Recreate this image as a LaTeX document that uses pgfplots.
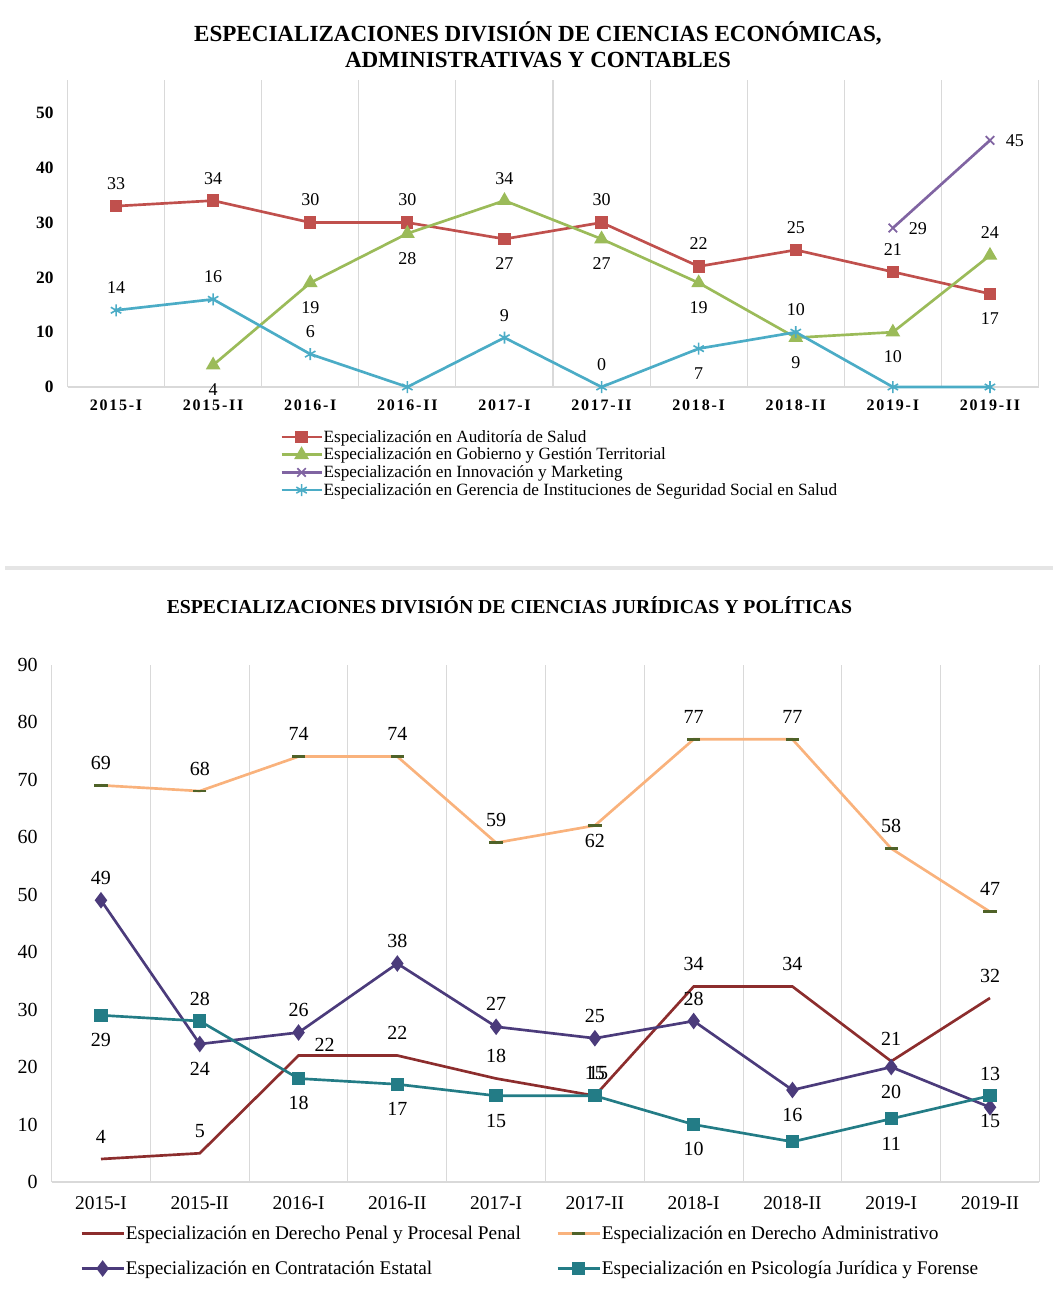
\documentclass[border=0pt]{standalone}
\usepackage{pgfplots}
\pgfplotsset{compat=1.18}
\usepackage{pgfplotstable}
\usepackage{fontspec}
\setmainfont{Liberation Serif}

\definecolor{cRed}{HTML}{C0504D}
\definecolor{cGreen}{HTML}{9BBB59}
\definecolor{cPurple}{HTML}{8064A2}
\definecolor{cCyan}{HTML}{4BACC6}
\definecolor{cMaroon}{HTML}{8C2D2D}
\definecolor{cOrange}{HTML}{F9B27C}
\definecolor{cDkGreen}{HTML}{4F6228}
\definecolor{cViolet}{HTML}{4B3B7B}
\definecolor{cTeal}{HTML}{237C86}
\definecolor{cGrid}{HTML}{D9D9D9}

% label placement helpers: A above, B below, C close below, R right, U high above, Q above-right, S above (shifted)
\newcommand\LA[1]{\makebox[0pt]{\smash{\raisebox{\dimexpr 17pt-0.34em\relax}{#1}}}}
\newcommand\LU[1]{\makebox[0pt]{\smash{\raisebox{\dimexpr 25pt-0.34em\relax}{#1}}}}
\newcommand\LB[1]{\makebox[0pt]{\smash{\raisebox{\dimexpr -18.5pt-0.34em\relax}{#1}}}}
\newcommand\LC[1]{\makebox[0pt]{\smash{\raisebox{\dimexpr -11.5pt-0.34em\relax}{#1}}}}
\newcommand\LR[1]{\makebox[0pt][l]{\hspace{12pt}\smash{\raisebox{-0.34em}{#1}}}}
\newcommand\LQ[1]{\makebox[0pt][l]{\hspace{12pt}\smash{\raisebox{\dimexpr 8pt-0.34em\relax}{#1}}}}
\newcommand\LS[1]{\makebox[0pt]{\hspace{5pt}\smash{\raisebox{\dimexpr 17pt-0.34em\relax}{#1}}}}
\def\splitlbl#1/#2\relax{\csname L#2\endcsname{#1}}

% ---------- Top chart data ----------
\pgfplotstableread{
x y lbl
0 33 33/A
1 34 34/A
2 30 30/A
3 30 30/A
4 27 27/B
5 30 30/A
6 22 22/A
7 25 25/A
8 21 21/A
9 17 17/B
}\tRed
\pgfplotstableread{
x y lbl
1 4 4/B
2 19 19/B
3 28 28/B
4 34 34/A
5 27 27/B
6 19 19/B
7 9 9/B
8 10 10/B
9 24 24/A
}\tGreen
\pgfplotstableread{
x y lbl
8 29 29/R
9 45 45/R
}\tPurple
\pgfplotstableread{
x y lbl
0 14 14/A
1 16 16/A
2 6 6/A
3 0 /A
4 9 9/A
5 0 0/A
6 7 7/B
7 10 10/A
8 0 /A
9 0 /A
}\tCyan

% ---------- Bottom chart data ----------
\pgfplotstableread{
x y lbl
0 4 4/A
1 5 5/A
2 22 22/Q
3 22 22/A
4 18 18/A
5 15 15/A
6 34 34/A
7 34 34/A
8 21 21/A
9 32 32/A
}\tPenal
\pgfplotstableread{
x y lbl
0 69 69/A
1 68 68/A
2 74 74/A
3 74 74/A
4 59 59/A
5 62 62/C
6 77 77/A
7 77 77/A
8 58 58/A
9 47 47/A
}\tAdmin
\pgfplotstableread{
x y lbl
0 49 49/A
1 24 24/B
2 26 26/A
3 38 38/A
4 27 27/A
5 25 25/A
6 28 28/A
7 16 16/B
8 20 20/B
9 13 13/U
}\tContr
\pgfplotstableread{
x y lbl
0 29 29/B
1 28 28/A
2 18 18/B
3 17 17/B
4 15 15/B
5 15 15/S
6 10 10/B
7 7 /B
8 11 11/B
9 15 15/B
}\tPsico

\pgfplotsset{
  lbl/.style={forget plot, draw=none, mark=none,
    point meta=explicit symbolic,
    nodes near coords={\expandafter\splitlbl\pgfplotspointmeta\relax},
    every node near coord/.append style={anchor=center, inner sep=0pt, text=black}},
  common/.style={
    scale only axis, anchor=south west,
    xmin=-0.5, xmax=9.5, ymin=0,
    xtick={0,...,9},
    xticklabels={2015-I,2015-II,2016-I,2016-II,2017-I,2017-II,2018-I,2018-II,2019-I,2019-II},
    minor xtick={-0.5,0.5,...,9.5},
    xminorgrids, minor grid style={draw=cGrid, line width=0.8pt},
    major tick length=0pt, minor tick length=0pt,
    axis line style={draw=none},
    /pgf/number format/assume math mode=true,
    clip=false,
    legend cell align=left,
  },
}

\begin{document}
\begin{tikzpicture}
\path[use as bounding box] (0pt,0pt) rectangle (789.75pt,-968.25pt);

\node[font=\bfseries\fontsize{17.3}{19.5}\selectfont, align=center] at (403.5pt,-33.75pt)
  {ESPECIALIZACIONES DIVISIÓN DE CIENCIAS ECONÓMICAS,\\ADMINISTRATIVAS Y CONTABLES};

\draw[draw=black!10, line width=2.5pt] (3.75pt,-426pt) -- (789.75pt,-426pt);

\node[font=\bfseries\fontsize{14.8}{17}\selectfont] at (382.1pt,-453.75pt)
  {ESPECIALIZACIONES DIVISIÓN DE CIENCIAS JURÍDICAS Y POLÍTICAS};

% ================= TOP =================
\begin{axis}[common,
  at={(50.625pt,-290.25pt)}, width=728.25pt, height=230.25pt,
  ymax=56, ytick={0,10,...,50},
  xticklabel style={font=\fontsize{12}{14}\selectfont\bfseries\addfontfeature{LetterSpace=11}, yshift=-6pt},
  yticklabel style={font=\fontsize{13}{15}\selectfont\bfseries, xshift=-7pt},
  every node near coord/.append style={font=\fontsize{13.5}{15}\selectfont},
  legend style={draw=none, fill=none, at={(axis description cs:0.2188,-0.1368)}, anchor=north west,
    inner sep=0pt, row sep=1.6pt, font=\fontsize{12.9}{14}\selectfont, nodes={inner sep=0.6pt}},
  legend image code/.code={\draw[mark repeat=2,mark phase=2] plot coordinates {(0pt,0pt) (15pt,0pt) (30pt,0pt)};},
]
\draw[cGrid, line width=1.2pt] (axis cs:-0.5,0) -- (axis cs:9.5,0);
\addplot[cRed, line width=2pt, mark=square*, mark size=3.6pt] table[x=x,y=y]{\tRed};
\addlegendentry{Especialización en Auditoría de Salud}
\addplot[cGreen, line width=2pt, mark=triangle*, mark size=4.4pt] table[x=x,y=y]{\tGreen};
\addlegendentry{Especialización en Gobierno y Gestión Territorial}
\addplot[cPurple, line width=2pt, mark=x, mark size=4.5pt, mark options={line width=1.3pt}] table[x=x,y=y]{\tPurple};
\addlegendentry{Especialización en Innovación y Marketing}
\addplot[cCyan, line width=2pt, mark=asterisk, mark size=4.5pt, mark options={line width=1.2pt}] table[x=x,y=y]{\tCyan};
\addlegendentry{Especialización en Gerencia de Instituciones de Seguridad Social en Salud}
\addplot[lbl] table[x=x,y=y,meta=lbl]{\tRed};
\addplot[lbl] table[x=x,y=y,meta=lbl]{\tGreen};
\addplot[lbl] table[x=x,y=y,meta=lbl]{\tPurple};
\addplot[lbl] table[x=x,y=y,meta=lbl]{\tCyan};
\end{axis}

% ================= BOTTOM =================
\begin{axis}[common,
  at={(38.7pt,-886.5pt)}, width=740.85pt, height=388.1pt,
  ymax=90, ytick={0,10,...,90},
  xticklabel style={font=\fontsize{14.6}{16}\selectfont, yshift=-7.5pt},
  yticklabel style={font=\fontsize{15}{17}\selectfont, xshift=-7pt},
  every node near coord/.append style={font=\fontsize{15}{17}\selectfont},
  legend columns=2,
  legend style={draw=none, fill=none, at={(axis description cs:0.0288,-0.0825)}, anchor=north west,
    inner sep=0pt, row sep=13.5pt, font=\fontsize{14.5}{16}\selectfont, nodes={inner sep=0.6pt},
    /tikz/column 2/.style={column sep=26pt}},
  legend image code/.code={\draw[mark repeat=2,mark phase=2] plot coordinates {(0pt,0pt) (15.75pt,0pt) (31.5pt,0pt)};},
]
\draw[cGrid, line width=1.2pt] (axis cs:-0.5,0) -- (axis cs:9.5,0);
\addplot[cMaroon, line width=2pt, no marks] table[x=x,y=y]{\tPenal};
\addlegendentry{Especialización en Derecho Penal y Procesal Penal}
\addplot[cOrange, line width=2pt, mark=-, mark size=5pt, mark options={draw=cDkGreen, line width=2pt}] table[x=x,y=y]{\tAdmin};
\addlegendentry{Especialización en Derecho Administrativo}
\addplot[cViolet, line width=2pt, mark=diamond*, mark size=4.6pt] table[x=x,y=y]{\tContr};
\addlegendentry{Especialización en Contratación Estatal}
\addplot[cTeal, line width=2pt, mark=square*, mark size=4pt] table[x=x,y=y]{\tPsico};
\addlegendentry{Especialización en Psicología Jurídica y Forense}
\addplot[lbl] table[x=x,y=y,meta=lbl]{\tPenal};
\addplot[lbl] table[x=x,y=y,meta=lbl]{\tAdmin};
\addplot[lbl] table[x=x,y=y,meta=lbl]{\tContr};
\addplot[lbl] table[x=x,y=y,meta=lbl]{\tPsico};
\end{axis}
\end{tikzpicture}
\end{document}
